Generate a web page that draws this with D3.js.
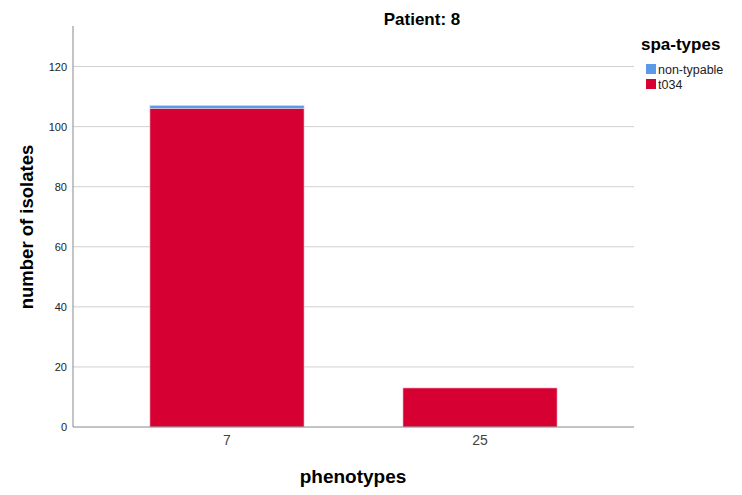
<!DOCTYPE html>
<html><head><meta charset="utf-8">
<script src="https://cdn.jsdelivr.net/npm/d3@7"></script>
<style>body{margin:0;background:#fff}svg{font-family:Arial,"Liberation Sans",sans-serif}</style>
</head><body><svg id="c" width="742" height="495"></svg>
<script>
const categories = ["7", "25"];
const series = ["t034", "non-typable"];
const t034 = [106, 13];
const nonTypable = [1, 0];
const yTicks = [0, 20, 40, 60, 80, 100, 120];
const colors = {"t034": "#d70033", "non-typable": "#5a9ae6"};

const svg = d3.select("#c");
const L = 73, R = 634, T = 26, B = 427;
const x = d3.scaleBand().domain(categories).range([L, R]).paddingInner(0.391).paddingOuter(0.304);
const y = d3.scaleLinear().domain([0, 133.5]).range([B, T]);

// gridlines
svg.append("g").selectAll("line").data(yTicks.filter(d => d > 0)).join("line")
  .attr("x1", L).attr("x2", R).attr("y1", d => y(d)).attr("y2", d => y(d))
  .attr("stroke", "#d0d0d0").attr("stroke-width", 1);

// bars
const rows = categories.map((c, i) => ({cat: c, "t034": t034[i], "non-typable": nonTypable[i]}));
const stack = d3.stack().keys(series)(rows);
svg.append("g").selectAll("g").data(stack).join("g").attr("fill", d => colors[d.key])
  .selectAll("rect").data(d => d.filter(p => p[1] - p[0] > 0)).join("rect")
  .attr("x", d => x(d.data.cat)).attr("width", x.bandwidth())
  .attr("y", d => y(d[1])).attr("height", d => y(d[0]) - y(d[1]))
  .attr("stroke", "#f2c3cd").attr("stroke-width", 0.6);

// axes
const yAxis = svg.append("g").attr("transform", `translate(${L},0)`)
  .call(d3.axisLeft(y).tickValues(yTicks).tickSize(0).tickPadding(6));
yAxis.select(".domain").attr("stroke", "#888").attr("d", `M0,${T}V${B}`);
yAxis.selectAll("text").attr("font-size", 11).attr("fill", "#222");

const xAxis = svg.append("g").attr("transform", `translate(0,${B})`)
  .call(d3.axisBottom(x).tickSize(0).tickPadding(8));
xAxis.select(".domain").attr("stroke", "#888").attr("d", `M${L},0H${R}`);
xAxis.selectAll("text").attr("font-size", 14).attr("fill", "#444");

// titles
svg.append("text").attr("x", 422).attr("y", 25).attr("text-anchor", "middle")
  .attr("font-size", 17).attr("font-weight", "bold").text("Patient: 8");
svg.append("text").attr("transform", "translate(33,227) rotate(-90)").attr("text-anchor", "middle")
  .attr("font-size", 18.5).attr("font-weight", "bold").text("number of isolates");
svg.append("text").attr("x", 353).attr("y", 483).attr("text-anchor", "middle")
  .attr("font-size", 19).attr("font-weight", "bold").text("phenotypes");

// legend
const lg = svg.append("g");
lg.append("text").attr("x", 641).attr("y", 50).attr("font-size", 17).attr("font-weight", "bold").text("spa-types");
const items = ["non-typable", "t034"];
lg.selectAll("g.it").data(items).join("g").attr("class", "it")
  .attr("transform", (d, i) => `translate(646,${64 + i * 15})`)
  .each(function(d) {
    const g = d3.select(this);
    g.append("rect").attr("width", 10).attr("height", 10).attr("fill", colors[d]);
    g.append("text").attr("x", 12).attr("y", 9.5).attr("font-size", 12.5).attr("fill", "#222").text(d);
  });
</script></body></html>
